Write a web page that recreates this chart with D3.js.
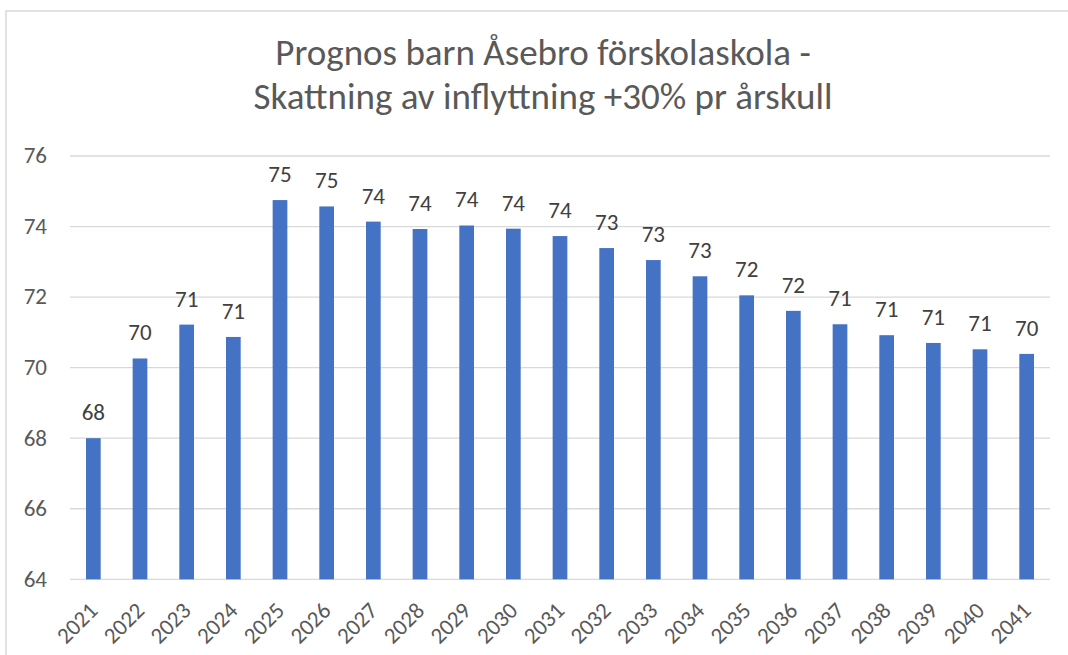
<!DOCTYPE html>
<html lang="sv">
<head>
    <meta charset="UTF-8">
    <title>Prognos barn Åsebro förskolaskola</title>
    <script src="https://d3js.org/d3.v7.min.js"></script>
    <style>
        body { margin: 0; background: #fff; }
        text { font-family: Calibri, Carlito, "Liberation Sans", sans-serif; }
        .grid line { stroke: #d9d9d9; stroke-width: 1.3px; }
        .tick-label { fill: #595959; font-size: 23px; }
        .data-label { fill: #404040; font-size: 23px; }
        .title { fill: #595959; font-size: 37px; }
    </style>
</head>
<body>
    <script>
        // Data
        const years = ["2021", "2022", "2023", "2024", "2025", "2026", "2027", "2028", "2029", "2030", "2031",
                       "2032", "2033", "2034", "2035", "2036", "2037", "2038", "2039", "2040", "2041"];
        const values = [68.0, 70.26, 71.22, 70.87, 74.75, 74.57, 74.14, 73.93, 74.03, 73.94, 73.73,
                        73.39, 73.05, 72.59, 72.05, 71.61, 71.23, 70.92, 70.70, 70.52, 70.39];
        const yTicks = [64, 66, 68, 70, 72, 74, 76];
        const titleLines = ["Prognos barn Åsebro förskolaskola -", "Skattning av inflyttning +30% pr årskull"];

        const width = 1068;
        const height = 655;
        const plot = { left: 70, right: 1050, top: 156, bottom: 579.3 };

        const svg = d3.select("body")
            .append("svg")
            .attr("width", width)
            .attr("height", height);

        // Chart border (partly cut off at right and bottom)
        svg.append("rect")
            .attr("x", 6)
            .attr("y", 11)
            .attr("width", 1070)
            .attr("height", 660)
            .attr("fill", "none")
            .attr("stroke", "#d9d9d9")
            .attr("stroke-width", 1.5);

        // Title
        svg.append("g")
            .selectAll("text")
            .data(titleLines)
            .enter()
            .append("text")
            .attr("class", "title")
            .attr("x", 543)
            .attr("y", (d, i) => 65 + i * 44)
            .attr("text-anchor", "middle")
            .text(d => d);

        const x = d3.scaleBand()
            .domain(years)
            .range([plot.left, plot.right])
            .paddingInner(0.685)
            .paddingOuter(0.3425);

        const y = d3.scaleLinear()
            .domain([64, 76])
            .range([plot.bottom, plot.top]);

        // Gridlines
        svg.append("g")
            .attr("class", "grid")
            .selectAll("line")
            .data(yTicks)
            .enter()
            .append("line")
            .attr("x1", plot.left)
            .attr("x2", plot.right)
            .attr("y1", d => y(d))
            .attr("y2", d => y(d));

        // Y axis labels
        svg.append("g")
            .selectAll("text")
            .data(yTicks)
            .enter()
            .append("text")
            .attr("class", "tick-label")
            .attr("x", 47)
            .attr("y", d => y(d))
            .attr("dy", "0.32em")
            .attr("text-anchor", "end")
            .text(d => d);

        // Bars
        svg.append("g")
            .selectAll("rect")
            .data(values)
            .enter()
            .append("rect")
            .attr("x", (d, i) => x(years[i]))
            .attr("y", d => y(d))
            .attr("width", x.bandwidth())
            .attr("height", d => y(64) - y(d))
            .attr("fill", "#4472c4");

        // Data labels
        svg.append("g")
            .selectAll("text")
            .data(values)
            .enter()
            .append("text")
            .attr("class", "data-label")
            .attr("x", (d, i) => x(years[i]) + x.bandwidth() / 2)
            .attr("y", d => y(d) - 18)
            .attr("text-anchor", "middle")
            .text(d => d3.format(".0f")(d));

        // X axis labels, rotated
        svg.append("g")
            .selectAll("text")
            .data(years)
            .enter()
            .append("text")
            .attr("class", "tick-label")
            .attr("text-anchor", "end")
            .attr("transform", d => `translate(${x(d) + x.bandwidth() / 2},${plot.bottom + 27}) rotate(-45)`)
            .attr("dy", "0.35em")
            .text(d => d);
    </script>
</body>
</html>
